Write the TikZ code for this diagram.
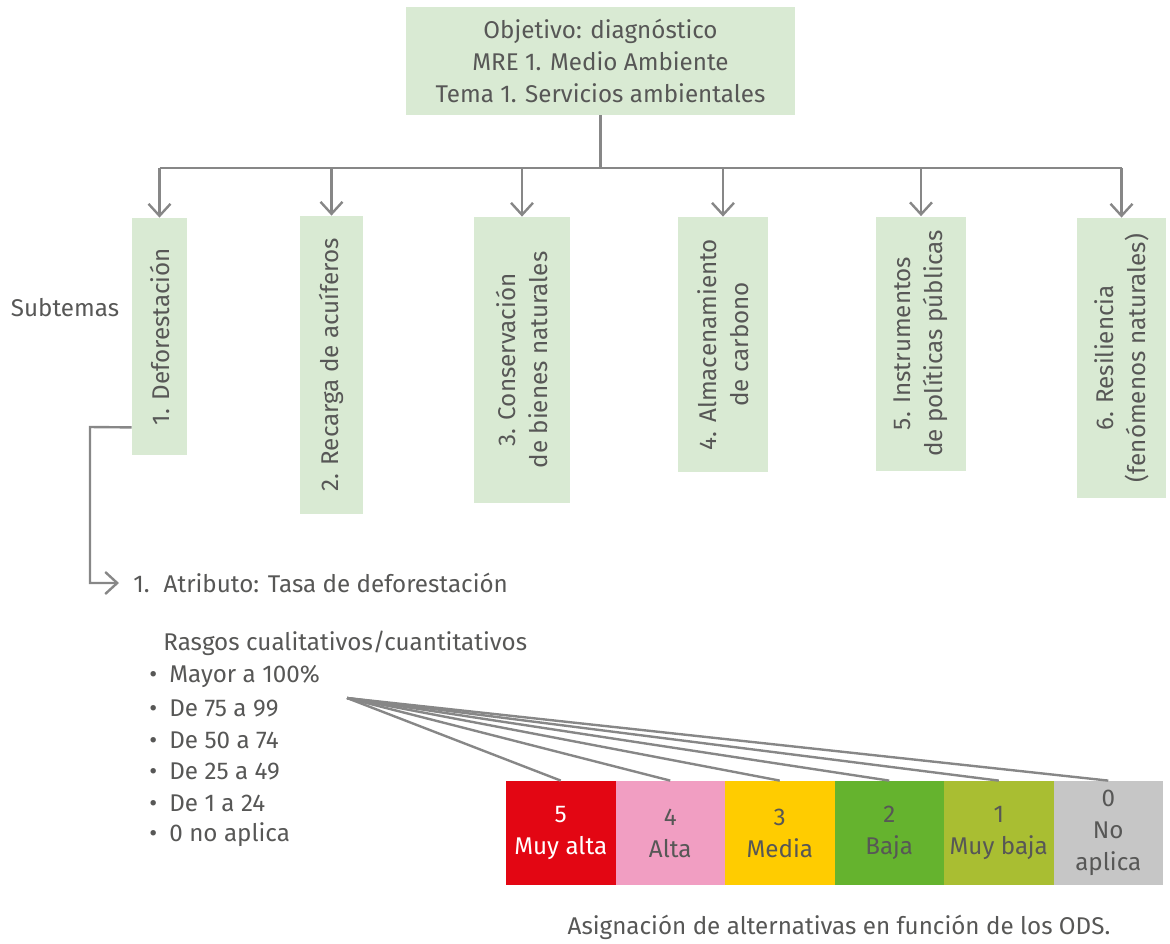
\documentclass[tikz,border=0pt]{standalone}
\usepackage{fontspec}
\setmainfont{Fira Sans}
\usepackage{xcolor}
\usetikzlibrary{arrows.meta}

\definecolor{txtgray}{RGB}{87,87,86}
\definecolor{linegray}{RGB}{135,135,135}
\definecolor{boxgreen}{RGB}{217,234,211}
\definecolor{sred}{RGB}{227,6,19}
\definecolor{spink}{RGB}{241,158,194}
\definecolor{syellow}{RGB}{255,204,0}
\definecolor{sgreen}{RGB}{101,179,46}
\definecolor{solive}{RGB}{169,190,50}
\definecolor{sgray}{RGB}{198,198,198}

\begin{document}
\begin{tikzpicture}[x=0.5pt,y=-0.5pt]
\tikzstyle{every node}+=[inner sep=0pt, text=txtgray, font=\fontsize{12.1}{16}\selectfont]
\tikzstyle{link}=[draw=linegray, line width=1.2pt]
\tikzstyle{arr}=[link, -{Straight Barb[length=6pt,width=11pt,line width=1.2pt]}]
\tikzstyle{subbox}=[fill=boxgreen, rotate=90, align=center]
\tikzstyle{scorebox}=[minimum width=54.75pt, minimum height=52pt, align=center]
\useasboundingbox (0,0) rectangle (1170,943);

% objetivo
\node [fill=boxgreen, align=center, minimum width=194.5pt, minimum height=54pt] (top) at (600.5,61)
  {Objetivo: diagnóstico\\MRE 1. Medio Ambiente\\Tema 1. Servicios ambientales};

% subtemas
\node (subt) at (65,308) {Subtemas};
\node [subbox, minimum width=118.5pt, minimum height=27.5pt] (s1) at (159.5,336.5) {1. Deforestación};
\node [subbox, minimum width=149pt, minimum height=31.5pt] (s2) at (331.5,365) {2. Recarga de acuíferos};
\node [subbox, minimum width=143pt, minimum height=48pt] (s3) at (522,360) {3. Conservación\\de bienes naturales};
\node [subbox, minimum width=127.5pt, minimum height=45pt] (s4) at (723,344.5) {4. Almacenamiento\\de carbono};
\node [subbox, minimum width=127pt, minimum height=45pt] (s5) at (921,343.5) {5. Instrumentos\\de políticas públicas};
\node [subbox, minimum width=140pt, minimum height=44.5pt] (s6) at (1121.5,358) {6. Resiliencia\\(fenómenos naturales)};

\coordinate (split) at (600.5,168);
\draw [link] (top.south) -- (split);
\draw [link] (s1 |- split) -- (s6 |- split);
\foreach \i in {1,...,6}
  \draw [arr] (s\i |- split) -- (s\i.east);

% atributo
\node [anchor=west] (attr) at (133,583) {1.\hspace{7pt}Atributo: Tasa de deforestación};
\draw [arr] ([yshift=14pt]s1.north west) -- (90,427) |- ([xshift=-7pt]attr.west);

\node [anchor=west] (rasgos) at (163,643) {Rasgos cualitativos/cuantitativos};
\foreach \t [count=\i] in {Mayor a 100\%, De 75 a 99, De 50 a 74, De 25 a 49, De 1 a 24, 0 no aplica}
  \node [anchor=west] (r\i) at (149,645+31.6*\i) {\makebox[10pt][l]{\textbullet}\t};

% escala
\foreach \n/\lbl/\col/\tc [count=\i] in {5/Muy alta/sred/white, 4/Alta/spink/txtgray, 3/Media/syellow/txtgray,
    2/Baja/sgreen/txtgray, 1/Muy baja/solive/txtgray, 0/No\\aplica/sgray/txtgray}
  \node [scorebox, fill=\col, text=\tc] (c\n) at (506+109.5*\i-54.75,833) {\n\\\lbl};

\coordinate (fan) at (347,698);
\foreach \n in {5,4,...,0}
  \draw [link] (fan) -- (c\n.north);

\node (caption) at (839,927) {Asignación de alternativas en función de los ODS.};
\end{tikzpicture}
\end{document}
